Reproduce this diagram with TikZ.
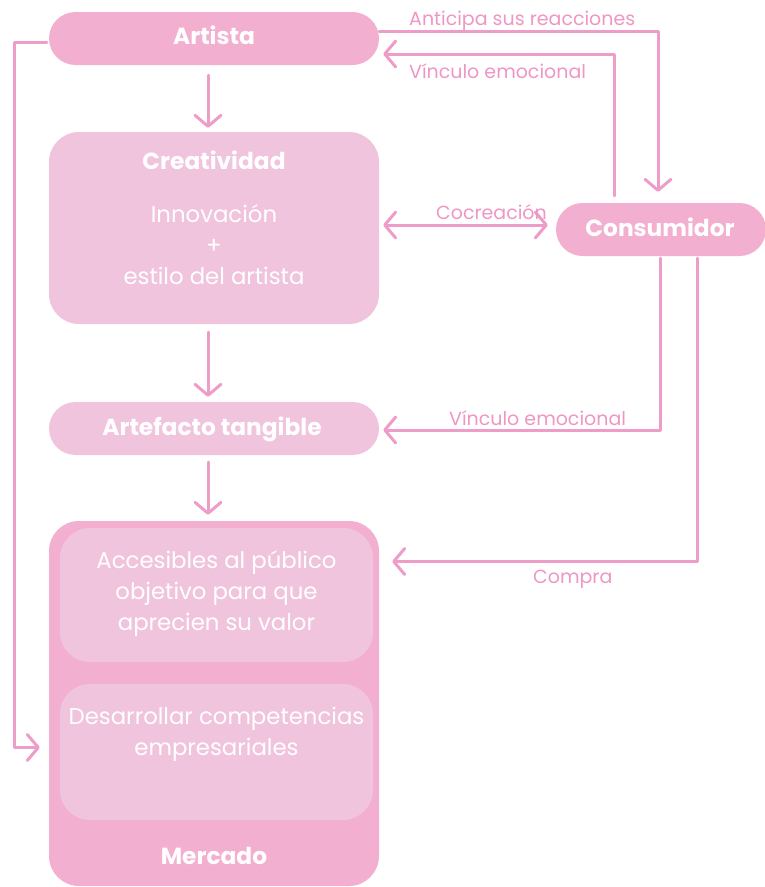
\documentclass[tikz,border=0pt]{standalone}
\usepackage{fontspec}
\setmainfont{Poppins}
\usetikzlibrary{arrows.meta}
\definecolor{boxdark}{HTML}{F3AFCF}
\definecolor{boxlight}{HTML}{F1C4DE}
\definecolor{inkpink}{HTML}{EE9CC8}
\definecolor{labelpink}{HTML}{EE96C4}
\tikzset{
  titlefont/.style={font=\fontsize{23.3}{28}\selectfont\bfseries},
  pill/.style={rectangle, rounded corners=26.5pt, minimum width=330pt, minimum height=53pt,
    inner sep=0pt, text=white},
  panel/.style={rectangle, rounded corners=30pt, inner sep=0pt},
  bodytext/.style={text=white, align=center, font=\fontsize{22.8}{31}\selectfont},
  flowlabel/.style={text=labelpink, inner sep=0pt, font=\fontsize{19}{22}\selectfont},
  arr/.style={draw=inkpink, line width=3pt, line cap=round, line join=round,
    -{Straight Barb[length=11pt, width=26pt, line width=3pt, round]}},
  arrboth/.style={arr, {Straight Barb[length=11pt, width=26pt, line width=3pt, round]}-{Straight Barb[length=11pt, width=26pt, line width=3pt, round]}}
}
\begin{document}
\begin{tikzpicture}[x=1pt, y=-1pt]
\useasboundingbox (0,0) rectangle (765,887);

% boxes
\node[pill, fill=boxdark] (artista) at (214,38.5) {};
\node[text=white, titlefont] (artistalbl) at (214,35) {Artista};
\node[panel, fill=boxlight, minimum width=330pt, minimum height=192pt] (creat) at (214,228) {};
\node[text=white, titlefont] (creattitle) at (214,160) {Creatividad};
\node[bodytext] (creatbody) at (214,245) {Innovación\\+\\estilo del artista};
\node[pill, fill=boxdark, minimum width=210pt] (consum) at (661,229.5) {};
\node[text=white, titlefont] (consumlbl) at (660,227.5) {Consumidor};
\node[pill, fill=boxlight] (artef) at (214,428.5) {};
\node[text=white, titlefont] (arteflbl) at (212,429) {Artefacto tangible};

\node[panel, fill=boxdark, minimum width=330pt, minimum height=365pt] (mercado) at (214,703.5) {};
\node[panel, fill=boxlight, minimum width=313pt, minimum height=134pt] (acc) at (216.5,595) {};
\node[bodytext] (acctext) at (acc.center |- 0,593.5) {Accesibles al público\\objetivo para que\\aprecien su valor};
\node[panel, fill=boxlight, minimum width=313pt, minimum height=136pt] (des) at (216.5,752) {};
\node[bodytext] (destext) at (des.center |- 0,734) {Desarrollar competencias\\empresariales};
\node[text=white, titlefont] (mercadolbl) at (214,856) {Mercado};

% vertical flow
\draw[arr, shorten <=10pt, shorten >=4pt] (artista.south -| 208,0) -- (creat.north -| 208,0);
\draw[arr, shorten <=8pt, shorten >=5pt] (creat.south -| 208,0) -- (artef.north -| 208,0);
\draw[arr, shorten <=7pt, shorten >=6pt] (artef.south -| 208,0) -- (mercado.north -| 208,0);

% artista <-> consumidor
\draw[arr] ([yshift=7.5pt]artista.east) -| ([xshift=-3pt, yshift=11pt]consum.north);
\draw[arr] ([xshift=-47pt, yshift=7pt]consum.north) |- ([xshift=4pt, yshift=-15.5pt]artista.east);
\draw[arrboth] ([xshift=4pt, yshift=3pt]creat.east) -- ([xshift=-8pt, yshift=4.5pt]consum.west);
\draw[arr] ([xshift=-1pt, yshift=-2pt]consum.south) |- ([xshift=4pt, yshift=-1.5pt]artef.east);
\draw[arr] ([xshift=36pt, yshift=-2pt]consum.south) |- ([xshift=13pt, yshift=142pt]mercado.east);
\draw[arr] ([xshift=-2pt, yshift=-4pt]artista.west) -- ++(-32,0) |- ([xshift=-9pt, yshift=-44pt]mercado.west);

% connector labels
\node[flowlabel, anchor=west] (lbla) at (409,21) {Anticipa sus reacciones};
\node[flowlabel, anchor=west] (lblb) at (409,71) {Vínculo emocional};
\node[flowlabel, anchor=west] (lblc) at (436,212) {Cocreación};
\node[flowlabel, anchor=west] (lbld) at (449,418) {Vínculo emocional};
\node[flowlabel, anchor=west] (lble) at (533,579) {Compra};
\end{tikzpicture}
\end{document}
